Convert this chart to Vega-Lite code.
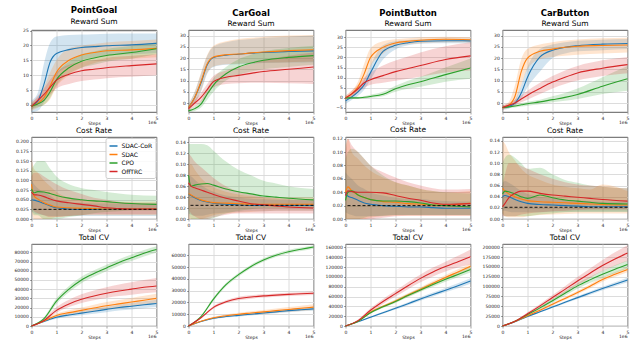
{
"$schema":"https://vega.github.io/schema/vega-lite/v6.json",
"padding":{"left":13.5,"top":5,"right":2,"bottom":0},
"columns":4,
"bounds":"flush",
"align":"all",
"spacing":{"row":25,"column":32},
"resolve":{"scale":{"color":"independent"},"legend":{"color":"independent"}},
"config":{
 "font":"DejaVu Sans",
 "view":{"stroke":"#333","strokeWidth":0.8},
 "axis":{"labelFont":"DejaVu Sans","titleFont":"DejaVu Sans","labelFontSize":4.5,"labelColor":"#222","labelOverlap":false,"labelFlush":false,"tickSize":2,"tickColor":"#444","tickWidth":0.5,"domain":false,"gridColor":"#d8d8d8","gridWidth":0.9,"labelPadding":1.2,"titleFontSize":4.5,"titleFontWeight":"normal","titlePadding":1,"titleColor":"#222"},
 "title":{"font":"DejaVu Sans","fontSize":8.5,"fontWeight":"bold","color":"#000","subtitleFont":"DejaVu Sans","subtitleFontSize":7.5,"subtitleColor":"#000","anchor":"middle","frame":"group","offset":2.5,"subtitlePadding":3}
},
"datasets":{
"pgR":[
{"a":"SDAC-CoR","x":0,"y":-0.5,"l":-2.5,"h":1.5},{"a":"SDAC-CoR","x":0.25,"y":1.2,"l":-2,"h":4},{"a":"SDAC-CoR","x":0.5,"y":7,"l":1,"h":14},{"a":"SDAC-CoR","x":0.75,"y":14.5,"l":6,"h":21},{"a":"SDAC-CoR","x":1,"y":17.3,"l":10,"h":23},{"a":"SDAC-CoR","x":1.5,"y":18.6,"l":13,"h":23.5},{"a":"SDAC-CoR","x":2,"y":19.3,"l":15,"h":23.7},{"a":"SDAC-CoR","x":2.5,"y":19.6,"l":16,"h":23.8},{"a":"SDAC-CoR","x":3,"y":19.9,"l":16.5,"h":23.9},{"a":"SDAC-CoR","x":4,"y":20.2,"l":17,"h":24},{"a":"SDAC-CoR","x":5,"y":20.7,"l":17.5,"h":24},
{"a":"SDAC","x":0,"y":-0.5,"l":-2,"h":1},{"a":"SDAC","x":0.25,"y":0.5,"l":-1,"h":2.5},{"a":"SDAC","x":0.5,"y":2.5,"l":0,"h":6},{"a":"SDAC","x":0.75,"y":6.5,"l":2,"h":11},{"a":"SDAC","x":1,"y":11,"l":6,"h":15},{"a":"SDAC","x":1.5,"y":15,"l":10,"h":19},{"a":"SDAC","x":2,"y":16.8,"l":12.5,"h":20},{"a":"SDAC","x":2.5,"y":17.6,"l":14,"h":20.5},{"a":"SDAC","x":3,"y":18.2,"l":15,"h":21},{"a":"SDAC","x":4,"y":18.5,"l":15.5,"h":21.5},{"a":"SDAC","x":5,"y":19,"l":16,"h":22},
{"a":"CPO","x":0,"y":-0.5,"l":-1.5,"h":0.5},{"a":"CPO","x":0.25,"y":0.3,"l":-0.8,"h":1.5},{"a":"CPO","x":0.5,"y":1.5,"l":0,"h":3},{"a":"CPO","x":0.75,"y":4.5,"l":2.5,"h":6.5},{"a":"CPO","x":1,"y":8.5,"l":6.5,"h":10.5},{"a":"CPO","x":1.5,"y":12.5,"l":10.5,"h":14.5},{"a":"CPO","x":2,"y":14.7,"l":12.5,"h":17},{"a":"CPO","x":2.5,"y":15.8,"l":13.5,"h":18},{"a":"CPO","x":3,"y":16.6,"l":14.5,"h":18.8},{"a":"CPO","x":4,"y":17.6,"l":15.5,"h":19.8},{"a":"CPO","x":5,"y":18.9,"l":17,"h":21},
{"a":"OffTRC","x":0,"y":-0.5,"l":-1.5,"h":0.5},{"a":"OffTRC","x":0.25,"y":1.5,"l":0,"h":3},{"a":"OffTRC","x":0.5,"y":3.5,"l":1.5,"h":5.5},{"a":"OffTRC","x":0.75,"y":6,"l":3.5,"h":8.5},{"a":"OffTRC","x":1,"y":8.3,"l":5.5,"h":11},{"a":"OffTRC","x":1.5,"y":10.3,"l":7,"h":13.5},{"a":"OffTRC","x":2,"y":11.5,"l":8,"h":14.5},{"a":"OffTRC","x":2.5,"y":12,"l":8.5,"h":15},{"a":"OffTRC","x":3,"y":12.5,"l":9,"h":15.8},{"a":"OffTRC","x":4,"y":13.2,"l":9.5,"h":16.5},{"a":"OffTRC","x":5,"y":13.8,"l":10,"h":17}
],
"cgR":[
{"a":"SDAC-CoR","x":0,"y":-2,"l":-3.5,"h":-0.5},{"a":"SDAC-CoR","x":0.25,"y":2.5,"l":0,"h":5},{"a":"SDAC-CoR","x":0.5,"y":9,"l":5,"h":13},{"a":"SDAC-CoR","x":0.75,"y":17,"l":13,"h":21},{"a":"SDAC-CoR","x":1,"y":20.3,"l":16,"h":25},{"a":"SDAC-CoR","x":1.5,"y":21.3,"l":17,"h":27},{"a":"SDAC-CoR","x":2,"y":21.7,"l":17.3,"h":28},{"a":"SDAC-CoR","x":2.5,"y":22.2,"l":17.5,"h":28.5},{"a":"SDAC-CoR","x":3,"y":22.5,"l":17.8,"h":29},{"a":"SDAC-CoR","x":4,"y":22.9,"l":18,"h":29.5},{"a":"SDAC-CoR","x":5,"y":23.2,"l":18.2,"h":30},
{"a":"SDAC","x":0,"y":-2,"l":-3.5,"h":-0.5},{"a":"SDAC","x":0.25,"y":2.5,"l":0,"h":5},{"a":"SDAC","x":0.5,"y":9.5,"l":5.5,"h":13.5},{"a":"SDAC","x":0.75,"y":17.5,"l":13.5,"h":21.5},{"a":"SDAC","x":1,"y":20.5,"l":16.3,"h":25.5},{"a":"SDAC","x":1.5,"y":21.5,"l":17.3,"h":27.5},{"a":"SDAC","x":2,"y":21.8,"l":17.5,"h":28.5},{"a":"SDAC","x":2.5,"y":22.3,"l":17.8,"h":29},{"a":"SDAC","x":3,"y":22.7,"l":18,"h":29.5},{"a":"SDAC","x":4,"y":23.3,"l":18.2,"h":30},{"a":"SDAC","x":5,"y":23.7,"l":18.5,"h":30.3},
{"a":"CPO","x":0,"y":-3.5,"l":-4,"h":-3},{"a":"CPO","x":0.25,"y":-2.5,"l":-3.5,"h":-1.5},{"a":"CPO","x":0.5,"y":-0.5,"l":-2,"h":1},{"a":"CPO","x":0.75,"y":4,"l":1.5,"h":6.5},{"a":"CPO","x":1,"y":8,"l":5,"h":11},{"a":"CPO","x":1.5,"y":13,"l":10,"h":16},{"a":"CPO","x":2,"y":16,"l":12.5,"h":19.5},{"a":"CPO","x":2.5,"y":17.8,"l":14,"h":21.5},{"a":"CPO","x":3,"y":19,"l":15,"h":23},{"a":"CPO","x":4,"y":20.3,"l":16,"h":24.5},{"a":"CPO","x":5,"y":21.1,"l":17,"h":25.5},
{"a":"OffTRC","x":0,"y":-2.5,"l":-3.5,"h":-1.5},{"a":"OffTRC","x":0.25,"y":0,"l":-1.5,"h":1.5},{"a":"OffTRC","x":0.5,"y":2.5,"l":0.5,"h":4.5},{"a":"OffTRC","x":0.75,"y":6,"l":3.5,"h":8.5},{"a":"OffTRC","x":1,"y":9.5,"l":7,"h":12},{"a":"OffTRC","x":1.5,"y":11.5,"l":8.5,"h":14.5},{"a":"OffTRC","x":2,"y":12.3,"l":8.8,"h":16},{"a":"OffTRC","x":2.5,"y":13.2,"l":9,"h":17.5},{"a":"OffTRC","x":3,"y":14,"l":9,"h":19},{"a":"OffTRC","x":4,"y":15,"l":8.8,"h":21},{"a":"OffTRC","x":5,"y":16,"l":8.5,"h":22.5}
],
"pbR":[
{"a":"SDAC-CoR","x":0,"y":-1.5,"l":-3,"h":0},{"a":"SDAC-CoR","x":0.25,"y":0.5,"l":-1,"h":2},{"a":"SDAC-CoR","x":0.5,"y":3,"l":1,"h":5},{"a":"SDAC-CoR","x":0.75,"y":6.5,"l":4,"h":9},{"a":"SDAC-CoR","x":1,"y":12.5,"l":9,"h":16},{"a":"SDAC-CoR","x":1.5,"y":23,"l":19,"h":26},{"a":"SDAC-CoR","x":2,"y":26,"l":24,"h":28},{"a":"SDAC-CoR","x":2.5,"y":27.3,"l":26,"h":28.6},{"a":"SDAC-CoR","x":3,"y":28,"l":26.8,"h":29},{"a":"SDAC-CoR","x":4,"y":28.3,"l":27,"h":29.4},{"a":"SDAC-CoR","x":5,"y":28.2,"l":27,"h":29.4},
{"a":"SDAC","x":0,"y":0,"l":-1,"h":1},{"a":"SDAC","x":0.25,"y":2,"l":0.5,"h":3.5},{"a":"SDAC","x":0.5,"y":5.5,"l":3,"h":8},{"a":"SDAC","x":0.75,"y":12,"l":8,"h":17},{"a":"SDAC","x":1,"y":20,"l":15.5,"h":24.5},{"a":"SDAC","x":1.5,"y":25,"l":22,"h":28},{"a":"SDAC","x":2,"y":27.2,"l":25.5,"h":29},{"a":"SDAC","x":2.5,"y":28,"l":26.5,"h":29.5},{"a":"SDAC","x":3,"y":28.5,"l":27,"h":30},{"a":"SDAC","x":4,"y":29,"l":27.5,"h":30.3},{"a":"SDAC","x":5,"y":28.8,"l":27.5,"h":30},
{"a":"CPO","x":0,"y":0,"l":-0.5,"h":0.5},{"a":"CPO","x":0.25,"y":0,"l":-0.5,"h":0.5},{"a":"CPO","x":0.5,"y":0,"l":-0.5,"h":0.5},{"a":"CPO","x":0.75,"y":0.3,"l":-0.3,"h":0.8},{"a":"CPO","x":1,"y":0.7,"l":0,"h":1.5},{"a":"CPO","x":1.5,"y":1.8,"l":0.8,"h":3},{"a":"CPO","x":2,"y":4.5,"l":3,"h":6},{"a":"CPO","x":2.5,"y":6.5,"l":4.5,"h":8.5},{"a":"CPO","x":3,"y":8,"l":5.5,"h":10.5},{"a":"CPO","x":4,"y":11.5,"l":8,"h":15},{"a":"CPO","x":5,"y":14.8,"l":9.5,"h":19.5},
{"a":"OffTRC","x":0,"y":0,"l":-1,"h":1},{"a":"OffTRC","x":0.25,"y":2,"l":0.5,"h":3.5},{"a":"OffTRC","x":0.5,"y":4.5,"l":2.5,"h":6.5},{"a":"OffTRC","x":0.75,"y":7.5,"l":5,"h":10},{"a":"OffTRC","x":1,"y":9,"l":6.5,"h":12.5},{"a":"OffTRC","x":1.5,"y":11,"l":7.5,"h":16},{"a":"OffTRC","x":2,"y":13,"l":8.5,"h":18.5},{"a":"OffTRC","x":2.5,"y":14.5,"l":9.5,"h":20.5},{"a":"OffTRC","x":3,"y":16,"l":10.5,"h":22.5},{"a":"OffTRC","x":4,"y":19,"l":12.5,"h":25.5},{"a":"OffTRC","x":5,"y":20.8,"l":13.5,"h":27.5}
],
"cbR":[
{"a":"SDAC-CoR","x":0,"y":-2,"l":-3,"h":-1},{"a":"SDAC-CoR","x":0.25,"y":-1.5,"l":-2.5,"h":-0.5},{"a":"SDAC-CoR","x":0.5,"y":0,"l":-1,"h":1.5},{"a":"SDAC-CoR","x":0.75,"y":4.5,"l":2,"h":8},{"a":"SDAC-CoR","x":1,"y":11.5,"l":7,"h":16},{"a":"SDAC-CoR","x":1.5,"y":20.5,"l":14,"h":24},{"a":"SDAC-CoR","x":2,"y":23.5,"l":20,"h":26},{"a":"SDAC-CoR","x":2.5,"y":24.8,"l":22,"h":27},{"a":"SDAC-CoR","x":3,"y":25.5,"l":23,"h":27.7},{"a":"SDAC-CoR","x":4,"y":26.2,"l":23.5,"h":28.2},{"a":"SDAC-CoR","x":5,"y":26.5,"l":24,"h":28.5},
{"a":"SDAC","x":0,"y":-2,"l":-3,"h":-1},{"a":"SDAC","x":0.25,"y":-1,"l":-2,"h":0.5},{"a":"SDAC","x":0.5,"y":3,"l":0,"h":8},{"a":"SDAC","x":0.75,"y":14,"l":8,"h":19.5},{"a":"SDAC","x":1,"y":20,"l":15,"h":24},{"a":"SDAC","x":1.5,"y":23,"l":19.5,"h":26},{"a":"SDAC","x":2,"y":24,"l":20.5,"h":27},{"a":"SDAC","x":2.5,"y":24.8,"l":21,"h":27.8},{"a":"SDAC","x":3,"y":25.3,"l":21.5,"h":28.3},{"a":"SDAC","x":4,"y":25.6,"l":22,"h":28.8},{"a":"SDAC","x":5,"y":25.8,"l":22.5,"h":29},
{"a":"CPO","x":0,"y":-2,"l":-2.5,"h":-1.5},{"a":"CPO","x":0.25,"y":-1.7,"l":-2.3,"h":-1.1},{"a":"CPO","x":0.5,"y":-1.3,"l":-2,"h":-0.6},{"a":"CPO","x":0.75,"y":-0.8,"l":-1.6,"h":0},{"a":"CPO","x":1,"y":-0.3,"l":-1.2,"h":0.6},{"a":"CPO","x":1.5,"y":0.5,"l":-0.5,"h":1.5},{"a":"CPO","x":2,"y":1.5,"l":0.3,"h":3},{"a":"CPO","x":2.5,"y":2.5,"l":1,"h":4.5},{"a":"CPO","x":3,"y":3.8,"l":1.8,"h":6.5},{"a":"CPO","x":4,"y":7.5,"l":4,"h":11.5},{"a":"CPO","x":5,"y":10.8,"l":5.5,"h":16.5},
{"a":"OffTRC","x":0,"y":-2,"l":-3,"h":-1},{"a":"OffTRC","x":0.25,"y":-1,"l":-2,"h":0},{"a":"OffTRC","x":0.5,"y":0,"l":-1,"h":1.5},{"a":"OffTRC","x":0.75,"y":1.8,"l":0.3,"h":3.5},{"a":"OffTRC","x":1,"y":3.5,"l":1.5,"h":5.5},{"a":"OffTRC","x":1.5,"y":6.5,"l":4,"h":9},{"a":"OffTRC","x":2,"y":9.3,"l":6.5,"h":12},{"a":"OffTRC","x":2.5,"y":11.5,"l":8.5,"h":14.5},{"a":"OffTRC","x":3,"y":13.4,"l":10,"h":16.5},{"a":"OffTRC","x":4,"y":15.5,"l":12,"h":19},{"a":"OffTRC","x":5,"y":17.1,"l":13.3,"h":20.5}
],
"pgC":[
{"a":"SDAC-CoR","x":0,"y":0.05,"l":0.02,"h":0.1},{"a":"SDAC-CoR","x":0.1,"y":0.049,"l":0.015,"h":0.09},{"a":"SDAC-CoR","x":0.25,"y":0.046,"l":0.012,"h":0.08},{"a":"SDAC-CoR","x":0.5,"y":0.04,"l":0.01,"h":0.07},{"a":"SDAC-CoR","x":0.75,"y":0.034,"l":0.008,"h":0.06},{"a":"SDAC-CoR","x":1,"y":0.029,"l":0.008,"h":0.05},{"a":"SDAC-CoR","x":1.5,"y":0.026,"l":0.008,"h":0.045},{"a":"SDAC-CoR","x":2,"y":0.025,"l":0.008,"h":0.042},{"a":"SDAC-CoR","x":2.5,"y":0.025,"l":0.008,"h":0.04},{"a":"SDAC-CoR","x":3,"y":0.025,"l":0.008,"h":0.04},{"a":"SDAC-CoR","x":3.5,"y":0.025,"l":0.008,"h":0.04},{"a":"SDAC-CoR","x":4,"y":0.025,"l":0.008,"h":0.04},{"a":"SDAC-CoR","x":5,"y":0.025,"l":0.008,"h":0.04},
{"a":"SDAC","x":0,"y":0.09,"l":0.02,"h":0.16},{"a":"SDAC","x":0.1,"y":0.06,"l":0,"h":0.13},{"a":"SDAC","x":0.25,"y":0.052,"l":0,"h":0.12},{"a":"SDAC","x":0.5,"y":0.042,"l":0,"h":0.1},{"a":"SDAC","x":0.75,"y":0.036,"l":0,"h":0.085},{"a":"SDAC","x":1,"y":0.031,"l":0.005,"h":0.07},{"a":"SDAC","x":1.5,"y":0.029,"l":0.008,"h":0.055},{"a":"SDAC","x":2,"y":0.028,"l":0.01,"h":0.05},{"a":"SDAC","x":2.5,"y":0.027,"l":0.01,"h":0.048},{"a":"SDAC","x":3,"y":0.026,"l":0.01,"h":0.046},{"a":"SDAC","x":3.5,"y":0.026,"l":0.01,"h":0.045},{"a":"SDAC","x":4,"y":0.026,"l":0.01,"h":0.045},{"a":"SDAC","x":5,"y":0.026,"l":0.01,"h":0.045},
{"a":"CPO","x":0,"y":0.078,"l":0.03,"h":0.13},{"a":"CPO","x":0.1,"y":0.068,"l":0.01,"h":0.14},{"a":"CPO","x":0.25,"y":0.071,"l":0.01,"h":0.15},{"a":"CPO","x":0.5,"y":0.07,"l":0,"h":0.15},{"a":"CPO","x":0.75,"y":0.066,"l":0,"h":0.13},{"a":"CPO","x":1,"y":0.061,"l":0,"h":0.11},{"a":"CPO","x":1.5,"y":0.054,"l":0.005,"h":0.09},{"a":"CPO","x":2,"y":0.05,"l":0.01,"h":0.08},{"a":"CPO","x":2.5,"y":0.047,"l":0.015,"h":0.075},{"a":"CPO","x":3,"y":0.045,"l":0.018,"h":0.07},{"a":"CPO","x":3.5,"y":0.042,"l":0.02,"h":0.066},{"a":"CPO","x":4,"y":0.04,"l":0.022,"h":0.063},{"a":"CPO","x":5,"y":0.038,"l":0.022,"h":0.06},
{"a":"OffTRC","x":0,"y":0.07,"l":0.03,"h":0.11},{"a":"OffTRC","x":0.1,"y":0.063,"l":0.02,"h":0.12},{"a":"OffTRC","x":0.25,"y":0.062,"l":0.015,"h":0.12},{"a":"OffTRC","x":0.5,"y":0.058,"l":0.01,"h":0.11},{"a":"OffTRC","x":0.75,"y":0.052,"l":0.005,"h":0.1},{"a":"OffTRC","x":1,"y":0.047,"l":0.005,"h":0.09},{"a":"OffTRC","x":1.5,"y":0.042,"l":0.008,"h":0.075},{"a":"OffTRC","x":2,"y":0.038,"l":0.01,"h":0.065},{"a":"OffTRC","x":2.5,"y":0.034,"l":0.012,"h":0.055},{"a":"OffTRC","x":3,"y":0.029,"l":0.012,"h":0.05},{"a":"OffTRC","x":3.5,"y":0.027,"l":0.012,"h":0.045},{"a":"OffTRC","x":4,"y":0.026,"l":0.012,"h":0.042},{"a":"OffTRC","x":5,"y":0.026,"l":0.012,"h":0.04}
],
"cgC":[
{"a":"SDAC-CoR","x":0,"y":0.045,"l":0.01,"h":0.08},{"a":"SDAC-CoR","x":0.1,"y":0.043,"l":0.008,"h":0.078},{"a":"SDAC-CoR","x":0.25,"y":0.039,"l":0.006,"h":0.072},{"a":"SDAC-CoR","x":0.5,"y":0.034,"l":0.006,"h":0.062},{"a":"SDAC-CoR","x":0.75,"y":0.031,"l":0.008,"h":0.055},{"a":"SDAC-CoR","x":1,"y":0.029,"l":0.01,"h":0.05},{"a":"SDAC-CoR","x":1.5,"y":0.027,"l":0.012,"h":0.043},{"a":"SDAC-CoR","x":2,"y":0.026,"l":0.013,"h":0.04},{"a":"SDAC-CoR","x":2.5,"y":0.025,"l":0.014,"h":0.037},{"a":"SDAC-CoR","x":3,"y":0.025,"l":0.014,"h":0.036},{"a":"SDAC-CoR","x":3.5,"y":0.025,"l":0.015,"h":0.035},{"a":"SDAC-CoR","x":4,"y":0.025,"l":0.015,"h":0.035},{"a":"SDAC-CoR","x":5,"y":0.025,"l":0.015,"h":0.035},
{"a":"SDAC","x":0,"y":0.046,"l":0,"h":0.1},{"a":"SDAC","x":0.1,"y":0.044,"l":0,"h":0.1},{"a":"SDAC","x":0.25,"y":0.04,"l":0,"h":0.09},{"a":"SDAC","x":0.5,"y":0.035,"l":0,"h":0.075},{"a":"SDAC","x":0.75,"y":0.032,"l":0.003,"h":0.065},{"a":"SDAC","x":1,"y":0.03,"l":0.007,"h":0.058},{"a":"SDAC","x":1.5,"y":0.029,"l":0.01,"h":0.05},{"a":"SDAC","x":2,"y":0.028,"l":0.012,"h":0.045},{"a":"SDAC","x":2.5,"y":0.027,"l":0.013,"h":0.042},{"a":"SDAC","x":3,"y":0.027,"l":0.014,"h":0.04},{"a":"SDAC","x":3.5,"y":0.027,"l":0.015,"h":0.04},{"a":"SDAC","x":4,"y":0.027,"l":0.015,"h":0.04},{"a":"SDAC","x":5,"y":0.027,"l":0.015,"h":0.04},
{"a":"CPO","x":0,"y":0.08,"l":0.02,"h":0.137},{"a":"CPO","x":0.1,"y":0.06,"l":0,"h":0.137},{"a":"CPO","x":0.25,"y":0.062,"l":0,"h":0.137},{"a":"CPO","x":0.5,"y":0.064,"l":0,"h":0.137},{"a":"CPO","x":0.75,"y":0.065,"l":0,"h":0.135},{"a":"CPO","x":1,"y":0.062,"l":0.002,"h":0.125},{"a":"CPO","x":1.5,"y":0.055,"l":0.01,"h":0.105},{"a":"CPO","x":2,"y":0.05,"l":0.015,"h":0.09},{"a":"CPO","x":2.5,"y":0.046,"l":0.018,"h":0.08},{"a":"CPO","x":3,"y":0.042,"l":0.02,"h":0.07},{"a":"CPO","x":3.5,"y":0.04,"l":0.02,"h":0.065},{"a":"CPO","x":4,"y":0.038,"l":0.02,"h":0.06},{"a":"CPO","x":5,"y":0.035,"l":0.02,"h":0.055},
{"a":"OffTRC","x":0,"y":0.066,"l":0.02,"h":0.12},{"a":"OffTRC","x":0.1,"y":0.06,"l":0.01,"h":0.115},{"a":"OffTRC","x":0.25,"y":0.057,"l":0.005,"h":0.105},{"a":"OffTRC","x":0.5,"y":0.053,"l":0,"h":0.095},{"a":"OffTRC","x":0.75,"y":0.049,"l":0,"h":0.085},{"a":"OffTRC","x":1,"y":0.045,"l":0.003,"h":0.075},{"a":"OffTRC","x":1.5,"y":0.038,"l":0.008,"h":0.06},{"a":"OffTRC","x":2,"y":0.033,"l":0.01,"h":0.05},{"a":"OffTRC","x":2.5,"y":0.028,"l":0.01,"h":0.045},{"a":"OffTRC","x":3,"y":0.026,"l":0.01,"h":0.04},{"a":"OffTRC","x":3.5,"y":0.024,"l":0.01,"h":0.038},{"a":"OffTRC","x":4,"y":0.022,"l":0.01,"h":0.036},{"a":"OffTRC","x":5,"y":0.02,"l":0.01,"h":0.034}
],
"pbC":[
{"a":"SDAC-CoR","x":0,"y":0.038,"l":0.01,"h":0.07},{"a":"SDAC-CoR","x":0.1,"y":0.034,"l":0.008,"h":0.065},{"a":"SDAC-CoR","x":0.25,"y":0.032,"l":0.006,"h":0.06},{"a":"SDAC-CoR","x":0.5,"y":0.028,"l":0.004,"h":0.05},{"a":"SDAC-CoR","x":0.75,"y":0.024,"l":0.004,"h":0.045},{"a":"SDAC-CoR","x":1,"y":0.022,"l":0.004,"h":0.04},{"a":"SDAC-CoR","x":1.5,"y":0.02,"l":0.005,"h":0.035},{"a":"SDAC-CoR","x":2,"y":0.019,"l":0.006,"h":0.032},{"a":"SDAC-CoR","x":2.5,"y":0.018,"l":0.006,"h":0.03},{"a":"SDAC-CoR","x":3,"y":0.018,"l":0.006,"h":0.03},{"a":"SDAC-CoR","x":3.5,"y":0.017,"l":0.006,"h":0.028},{"a":"SDAC-CoR","x":4,"y":0.016,"l":0.006,"h":0.027},{"a":"SDAC-CoR","x":5,"y":0.016,"l":0.006,"h":0.026},
{"a":"SDAC","x":0,"y":0.04,"l":0,"h":0.11},{"a":"SDAC","x":0.1,"y":0.048,"l":0,"h":0.12},{"a":"SDAC","x":0.25,"y":0.042,"l":0,"h":0.1},{"a":"SDAC","x":0.5,"y":0.036,"l":0,"h":0.09},{"a":"SDAC","x":0.75,"y":0.032,"l":0,"h":0.08},{"a":"SDAC","x":1,"y":0.029,"l":0.002,"h":0.072},{"a":"SDAC","x":1.5,"y":0.026,"l":0.004,"h":0.062},{"a":"SDAC","x":2,"y":0.025,"l":0.005,"h":0.055},{"a":"SDAC","x":2.5,"y":0.023,"l":0.005,"h":0.05},{"a":"SDAC","x":3,"y":0.022,"l":0.005,"h":0.045},{"a":"SDAC","x":3.5,"y":0.021,"l":0.005,"h":0.042},{"a":"SDAC","x":4,"y":0.021,"l":0.005,"h":0.04},{"a":"SDAC","x":5,"y":0.024,"l":0.005,"h":0.042},
{"a":"CPO","x":0,"y":0.028,"l":0,"h":0.09},{"a":"CPO","x":0.1,"y":0.04,"l":0,"h":0.1},{"a":"CPO","x":0.25,"y":0.042,"l":0,"h":0.105},{"a":"CPO","x":0.5,"y":0.036,"l":0,"h":0.1},{"a":"CPO","x":0.75,"y":0.032,"l":0.002,"h":0.09},{"a":"CPO","x":1,"y":0.029,"l":0.004,"h":0.08},{"a":"CPO","x":1.5,"y":0.027,"l":0.005,"h":0.065},{"a":"CPO","x":2,"y":0.027,"l":0.006,"h":0.055},{"a":"CPO","x":2.5,"y":0.026,"l":0.006,"h":0.05},{"a":"CPO","x":3,"y":0.024,"l":0.006,"h":0.045},{"a":"CPO","x":3.5,"y":0.021,"l":0.006,"h":0.042},{"a":"CPO","x":4,"y":0.02,"l":0.006,"h":0.04},{"a":"CPO","x":5,"y":0.018,"l":0.006,"h":0.038},
{"a":"OffTRC","x":0,"y":0.035,"l":0,"h":0.1},{"a":"OffTRC","x":0.1,"y":0.042,"l":0,"h":0.12},{"a":"OffTRC","x":0.25,"y":0.041,"l":0,"h":0.11},{"a":"OffTRC","x":0.5,"y":0.04,"l":0,"h":0.1},{"a":"OffTRC","x":0.75,"y":0.04,"l":0,"h":0.09},{"a":"OffTRC","x":1,"y":0.04,"l":0,"h":0.08},{"a":"OffTRC","x":1.5,"y":0.039,"l":0.002,"h":0.07},{"a":"OffTRC","x":2,"y":0.035,"l":0.004,"h":0.062},{"a":"OffTRC","x":2.5,"y":0.031,"l":0.005,"h":0.055},{"a":"OffTRC","x":3,"y":0.028,"l":0.005,"h":0.05},{"a":"OffTRC","x":3.5,"y":0.024,"l":0.005,"h":0.046},{"a":"OffTRC","x":4,"y":0.022,"l":0.005,"h":0.044},{"a":"OffTRC","x":5,"y":0.023,"l":0.005,"h":0.045}
],
"cbC":[
{"a":"SDAC-CoR","x":0,"y":0.04,"l":0.015,"h":0.065},{"a":"SDAC-CoR","x":0.1,"y":0.042,"l":0.015,"h":0.068},{"a":"SDAC-CoR","x":0.25,"y":0.04,"l":0.013,"h":0.065},{"a":"SDAC-CoR","x":0.5,"y":0.035,"l":0.012,"h":0.058},{"a":"SDAC-CoR","x":0.75,"y":0.031,"l":0.012,"h":0.05},{"a":"SDAC-CoR","x":1,"y":0.028,"l":0.012,"h":0.045},{"a":"SDAC-CoR","x":1.5,"y":0.026,"l":0.012,"h":0.04},{"a":"SDAC-CoR","x":2,"y":0.025,"l":0.013,"h":0.037},{"a":"SDAC-CoR","x":2.5,"y":0.024,"l":0.013,"h":0.035},{"a":"SDAC-CoR","x":3,"y":0.023,"l":0.013,"h":0.033},{"a":"SDAC-CoR","x":3.5,"y":0.022,"l":0.013,"h":0.032},{"a":"SDAC-CoR","x":4,"y":0.022,"l":0.013,"h":0.031},{"a":"SDAC-CoR","x":5,"y":0.022,"l":0.013,"h":0.031},
{"a":"SDAC","x":0,"y":0.055,"l":0.01,"h":0.14},{"a":"SDAC","x":0.1,"y":0.05,"l":0.005,"h":0.135},{"a":"SDAC","x":0.25,"y":0.045,"l":0.003,"h":0.12},{"a":"SDAC","x":0.5,"y":0.04,"l":0.003,"h":0.105},{"a":"SDAC","x":0.75,"y":0.036,"l":0.003,"h":0.09},{"a":"SDAC","x":1,"y":0.033,"l":0.005,"h":0.08},{"a":"SDAC","x":1.5,"y":0.031,"l":0.007,"h":0.07},{"a":"SDAC","x":2,"y":0.03,"l":0.008,"h":0.062},{"a":"SDAC","x":2.5,"y":0.029,"l":0.009,"h":0.058},{"a":"SDAC","x":3,"y":0.028,"l":0.01,"h":0.055},{"a":"SDAC","x":3.5,"y":0.027,"l":0.01,"h":0.053},{"a":"SDAC","x":4,"y":0.026,"l":0.01,"h":0.062},{"a":"SDAC","x":5,"y":0.025,"l":0.01,"h":0.05},
{"a":"CPO","x":0,"y":0.045,"l":0.01,"h":0.1},{"a":"CPO","x":0.1,"y":0.05,"l":0.005,"h":0.11},{"a":"CPO","x":0.25,"y":0.049,"l":0.005,"h":0.115},{"a":"CPO","x":0.5,"y":0.045,"l":0.005,"h":0.11},{"a":"CPO","x":0.75,"y":0.04,"l":0.005,"h":0.1},{"a":"CPO","x":1,"y":0.037,"l":0.005,"h":0.09},{"a":"CPO","x":1.5,"y":0.043,"l":0.008,"h":0.092},{"a":"CPO","x":2,"y":0.038,"l":0.01,"h":0.08},{"a":"CPO","x":2.5,"y":0.034,"l":0.012,"h":0.07},{"a":"CPO","x":3,"y":0.032,"l":0.013,"h":0.065},{"a":"CPO","x":3.5,"y":0.03,"l":0.013,"h":0.06},{"a":"CPO","x":4,"y":0.028,"l":0.013,"h":0.058},{"a":"CPO","x":5,"y":0.027,"l":0.013,"h":0.055},
{"a":"OffTRC","x":0,"y":0.022,"l":0.005,"h":0.06},{"a":"OffTRC","x":0.1,"y":0.028,"l":0.005,"h":0.08},{"a":"OffTRC","x":0.25,"y":0.038,"l":0.005,"h":0.1},{"a":"OffTRC","x":0.5,"y":0.046,"l":0.005,"h":0.1},{"a":"OffTRC","x":0.75,"y":0.05,"l":0.008,"h":0.095},{"a":"OffTRC","x":1,"y":0.05,"l":0.01,"h":0.09},{"a":"OffTRC","x":1.5,"y":0.046,"l":0.012,"h":0.08},{"a":"OffTRC","x":2,"y":0.043,"l":0.014,"h":0.072},{"a":"OffTRC","x":2.5,"y":0.041,"l":0.015,"h":0.066},{"a":"OffTRC","x":3,"y":0.039,"l":0.016,"h":0.062},{"a":"OffTRC","x":3.5,"y":0.037,"l":0.017,"h":0.06},{"a":"OffTRC","x":4,"y":0.035,"l":0.017,"h":0.058},{"a":"OffTRC","x":5,"y":0.032,"l":0.017,"h":0.055}
],
"pgV":[
{"a":"SDAC-CoR","x":0,"y":0,"l":0,"h":0},{"a":"SDAC-CoR","x":0.5,"y":5000,"l":4200,"h":5800},{"a":"SDAC-CoR","x":1,"y":9500,"l":8000,"h":11000},{"a":"SDAC-CoR","x":1.5,"y":12000,"l":10000,"h":14000},{"a":"SDAC-CoR","x":2,"y":14000,"l":11700,"h":16300},{"a":"SDAC-CoR","x":2.5,"y":16000,"l":13400,"h":18600},{"a":"SDAC-CoR","x":3,"y":18000,"l":15000,"h":21000},{"a":"SDAC-CoR","x":3.5,"y":20000,"l":16800,"h":23200},{"a":"SDAC-CoR","x":4,"y":21500,"l":18000,"h":25000},{"a":"SDAC-CoR","x":4.5,"y":23000,"l":19200,"h":26800},{"a":"SDAC-CoR","x":5,"y":24500,"l":20500,"h":28500},
{"a":"SDAC","x":0,"y":0,"l":0,"h":0},{"a":"SDAC","x":0.5,"y":5500,"l":4500,"h":6500},{"a":"SDAC","x":1,"y":11500,"l":9500,"h":13500},{"a":"SDAC","x":1.5,"y":14500,"l":12000,"h":17000},{"a":"SDAC","x":2,"y":17000,"l":14000,"h":20000},{"a":"SDAC","x":2.5,"y":19500,"l":16000,"h":23000},{"a":"SDAC","x":3,"y":22000,"l":18000,"h":26000},{"a":"SDAC","x":3.5,"y":24000,"l":19800,"h":28200},{"a":"SDAC","x":4,"y":26000,"l":21500,"h":30500},{"a":"SDAC","x":4.5,"y":28000,"l":23200,"h":32800},{"a":"SDAC","x":5,"y":30000,"l":25000,"h":35000},
{"a":"CPO","x":0,"y":0,"l":0,"h":0},{"a":"CPO","x":0.5,"y":8000,"l":6500,"h":9500},{"a":"CPO","x":1,"y":27000,"l":24000,"h":30000},{"a":"CPO","x":1.5,"y":40000,"l":36500,"h":43500},{"a":"CPO","x":2,"y":50000,"l":46500,"h":53500},{"a":"CPO","x":2.5,"y":57000,"l":53500,"h":60500},{"a":"CPO","x":3,"y":63000,"l":59500,"h":66500},{"a":"CPO","x":3.5,"y":69000,"l":65500,"h":72500},{"a":"CPO","x":4,"y":74000,"l":70500,"h":77500},{"a":"CPO","x":4.5,"y":79000,"l":75500,"h":82500},{"a":"CPO","x":5,"y":83000,"l":79500,"h":86500},
{"a":"OffTRC","x":0,"y":0,"l":0,"h":0},{"a":"OffTRC","x":0.5,"y":6000,"l":5000,"h":7500},{"a":"OffTRC","x":1,"y":17000,"l":14500,"h":20500},{"a":"OffTRC","x":1.5,"y":24000,"l":20500,"h":28500},{"a":"OffTRC","x":2,"y":29000,"l":25000,"h":34500},{"a":"OffTRC","x":2.5,"y":32500,"l":28000,"h":38500},{"a":"OffTRC","x":3,"y":35500,"l":30500,"h":42000},{"a":"OffTRC","x":3.5,"y":38000,"l":32500,"h":45000},{"a":"OffTRC","x":4,"y":40000,"l":34000,"h":47500},{"a":"OffTRC","x":4.5,"y":42000,"l":35500,"h":50000},{"a":"OffTRC","x":5,"y":43500,"l":36500,"h":52000}
],
"cgV":[
{"a":"SDAC-CoR","x":0,"y":0,"l":0,"h":0},{"a":"SDAC-CoR","x":0.5,"y":3800,"l":3400,"h":4200},{"a":"SDAC-CoR","x":1,"y":6500,"l":5800,"h":7200},{"a":"SDAC-CoR","x":1.5,"y":8000,"l":7200,"h":8800},{"a":"SDAC-CoR","x":2,"y":9000,"l":8100,"h":9900},{"a":"SDAC-CoR","x":2.5,"y":10000,"l":9000,"h":11000},{"a":"SDAC-CoR","x":3,"y":11000,"l":9900,"h":12100},{"a":"SDAC-CoR","x":3.5,"y":12000,"l":10800,"h":13200},{"a":"SDAC-CoR","x":4,"y":13000,"l":11700,"h":14300},{"a":"SDAC-CoR","x":4.5,"y":13800,"l":12400,"h":15200},{"a":"SDAC-CoR","x":5,"y":14500,"l":13000,"h":16000},
{"a":"SDAC","x":0,"y":0,"l":0,"h":0},{"a":"SDAC","x":0.5,"y":4000,"l":3500,"h":4500},{"a":"SDAC","x":1,"y":7000,"l":6200,"h":7800},{"a":"SDAC","x":1.5,"y":8700,"l":7700,"h":9700},{"a":"SDAC","x":2,"y":10000,"l":8800,"h":11200},{"a":"SDAC","x":2.5,"y":11000,"l":9600,"h":12400},{"a":"SDAC","x":3,"y":12000,"l":10400,"h":13600},{"a":"SDAC","x":3.5,"y":13000,"l":11200,"h":14800},{"a":"SDAC","x":4,"y":14000,"l":12000,"h":16000},{"a":"SDAC","x":4.5,"y":15000,"l":12800,"h":17200},{"a":"SDAC","x":5,"y":16000,"l":13600,"h":18400},
{"a":"CPO","x":0,"y":0,"l":0,"h":0},{"a":"CPO","x":0.5,"y":8000,"l":7200,"h":8800},{"a":"CPO","x":1,"y":22800,"l":21300,"h":24300},{"a":"CPO","x":1.5,"y":35000,"l":33500,"h":36500},{"a":"CPO","x":2,"y":43500,"l":42000,"h":45000},{"a":"CPO","x":2.5,"y":50500,"l":49000,"h":52000},{"a":"CPO","x":3,"y":56000,"l":54500,"h":57500},{"a":"CPO","x":3.5,"y":60000,"l":58500,"h":61500},{"a":"CPO","x":4,"y":63000,"l":61500,"h":64500},{"a":"CPO","x":4.5,"y":65000,"l":63500,"h":66500},{"a":"CPO","x":5,"y":67000,"l":65500,"h":68500},
{"a":"OffTRC","x":0,"y":0,"l":0,"h":0},{"a":"OffTRC","x":0.5,"y":7000,"l":6400,"h":7600},{"a":"OffTRC","x":1,"y":15800,"l":14600,"h":17000},{"a":"OffTRC","x":1.5,"y":20500,"l":19200,"h":21800},{"a":"OffTRC","x":2,"y":23300,"l":21900,"h":24700},{"a":"OffTRC","x":2.5,"y":24600,"l":23200,"h":26000},{"a":"OffTRC","x":3,"y":25500,"l":24100,"h":26900},{"a":"OffTRC","x":3.5,"y":26200,"l":24800,"h":27600},{"a":"OffTRC","x":4,"y":26800,"l":25400,"h":28200},{"a":"OffTRC","x":4.5,"y":27300,"l":25900,"h":28700},{"a":"OffTRC","x":5,"y":27800,"l":26300,"h":29300}
],
"pbV":[
{"a":"SDAC-CoR","x":0,"y":0,"l":0,"h":0},{"a":"SDAC-CoR","x":0.5,"y":8500,"l":7700,"h":9300},{"a":"SDAC-CoR","x":1,"y":18000,"l":16500,"h":19500},{"a":"SDAC-CoR","x":1.5,"y":27000,"l":25000,"h":29000},{"a":"SDAC-CoR","x":2,"y":36000,"l":33500,"h":38500},{"a":"SDAC-CoR","x":2.5,"y":45500,"l":42500,"h":48500},{"a":"SDAC-CoR","x":3,"y":55000,"l":51500,"h":58500},{"a":"SDAC-CoR","x":3.5,"y":64000,"l":60000,"h":68000},{"a":"SDAC-CoR","x":4,"y":73000,"l":68500,"h":77500},{"a":"SDAC-CoR","x":4.5,"y":82000,"l":77000,"h":87000},{"a":"SDAC-CoR","x":5,"y":91500,"l":86000,"h":97000},
{"a":"SDAC","x":0,"y":0,"l":0,"h":0},{"a":"SDAC","x":0.5,"y":9500,"l":8500,"h":10500},{"a":"SDAC","x":1,"y":28000,"l":26000,"h":30000},{"a":"SDAC","x":1.5,"y":40000,"l":37500,"h":42500},{"a":"SDAC","x":2,"y":51000,"l":48000,"h":54000},{"a":"SDAC","x":2.5,"y":63000,"l":59500,"h":66500},{"a":"SDAC","x":3,"y":75000,"l":71000,"h":79000},{"a":"SDAC","x":3.5,"y":87000,"l":82500,"h":91500},{"a":"SDAC","x":4,"y":99000,"l":94000,"h":104000},{"a":"SDAC","x":4.5,"y":110000,"l":104500,"h":115500},{"a":"SDAC","x":5,"y":121500,"l":115500,"h":127500},
{"a":"CPO","x":0,"y":0,"l":0,"h":0},{"a":"CPO","x":0.5,"y":9500,"l":8500,"h":10500},{"a":"CPO","x":1,"y":27000,"l":25000,"h":29000},{"a":"CPO","x":1.5,"y":39000,"l":36500,"h":41500},{"a":"CPO","x":2,"y":50000,"l":47000,"h":53000},{"a":"CPO","x":2.5,"y":62000,"l":58500,"h":65500},{"a":"CPO","x":3,"y":73500,"l":69500,"h":77500},{"a":"CPO","x":3.5,"y":84500,"l":80000,"h":89000},{"a":"CPO","x":4,"y":95000,"l":90000,"h":100000},{"a":"CPO","x":4.5,"y":105000,"l":99500,"h":110500},{"a":"CPO","x":5,"y":115000,"l":109000,"h":121000},
{"a":"OffTRC","x":0,"y":0,"l":0,"h":0},{"a":"OffTRC","x":0.5,"y":11000,"l":9000,"h":13000},{"a":"OffTRC","x":1,"y":32000,"l":28000,"h":36000},{"a":"OffTRC","x":1.5,"y":50000,"l":45000,"h":55000},{"a":"OffTRC","x":2,"y":66000,"l":60000,"h":72000},{"a":"OffTRC","x":2.5,"y":82000,"l":75000,"h":89000},{"a":"OffTRC","x":3,"y":97000,"l":89000,"h":105000},{"a":"OffTRC","x":3.5,"y":110000,"l":101000,"h":119000},{"a":"OffTRC","x":4,"y":121000,"l":111000,"h":131000},{"a":"OffTRC","x":4.5,"y":131000,"l":119000,"h":143000},{"a":"OffTRC","x":5,"y":141000,"l":126000,"h":156000}
],
"cbV":[
{"a":"SDAC-CoR","x":0,"y":0,"l":0,"h":0},{"a":"SDAC-CoR","x":0.5,"y":11000,"l":10000,"h":12000},{"a":"SDAC-CoR","x":1,"y":24000,"l":22500,"h":25500},{"a":"SDAC-CoR","x":1.5,"y":36000,"l":34000,"h":38000},{"a":"SDAC-CoR","x":2,"y":48000,"l":45500,"h":50500},{"a":"SDAC-CoR","x":2.5,"y":60000,"l":57000,"h":63000},{"a":"SDAC-CoR","x":3,"y":72000,"l":68500,"h":75500},{"a":"SDAC-CoR","x":3.5,"y":83500,"l":79500,"h":87500},{"a":"SDAC-CoR","x":4,"y":95000,"l":90500,"h":99500},{"a":"SDAC-CoR","x":4.5,"y":106000,"l":101000,"h":111000},{"a":"SDAC-CoR","x":5,"y":116700,"l":111200,"h":122200},
{"a":"SDAC","x":0,"y":0,"l":0,"h":0},{"a":"SDAC","x":0.5,"y":11500,"l":10000,"h":13000},{"a":"SDAC","x":1,"y":26000,"l":23500,"h":28500},{"a":"SDAC","x":1.5,"y":40000,"l":37000,"h":43000},{"a":"SDAC","x":2,"y":55000,"l":51500,"h":58500},{"a":"SDAC","x":2.5,"y":70000,"l":66000,"h":74000},{"a":"SDAC","x":3,"y":85000,"l":80500,"h":89500},{"a":"SDAC","x":3.5,"y":101000,"l":96000,"h":106000},{"a":"SDAC","x":4,"y":118000,"l":112500,"h":123500},{"a":"SDAC","x":4.5,"y":131000,"l":125000,"h":137000},{"a":"SDAC","x":5,"y":143500,"l":136500,"h":150500},
{"a":"CPO","x":0,"y":0,"l":0,"h":0},{"a":"CPO","x":0.5,"y":12000,"l":10000,"h":14000},{"a":"CPO","x":1,"y":29000,"l":26000,"h":32000},{"a":"CPO","x":1.5,"y":46000,"l":42000,"h":50000},{"a":"CPO","x":2,"y":64000,"l":59000,"h":69000},{"a":"CPO","x":2.5,"y":83000,"l":77000,"h":89000},{"a":"CPO","x":3,"y":101750,"l":94750,"h":108750},{"a":"CPO","x":3.5,"y":117000,"l":109000,"h":125000},{"a":"CPO","x":4,"y":131000,"l":122000,"h":140000},{"a":"CPO","x":4.5,"y":144000,"l":134000,"h":154000},{"a":"CPO","x":5,"y":156000,"l":146000,"h":166000},
{"a":"OffTRC","x":0,"y":0,"l":0,"h":0},{"a":"OffTRC","x":0.5,"y":12000,"l":10000,"h":14000},{"a":"OffTRC","x":1,"y":31000,"l":27000,"h":35000},{"a":"OffTRC","x":1.5,"y":51000,"l":46000,"h":56000},{"a":"OffTRC","x":2,"y":72500,"l":66500,"h":78500},{"a":"OffTRC","x":2.5,"y":93000,"l":85000,"h":101000},{"a":"OffTRC","x":3,"y":114000,"l":104000,"h":124000},{"a":"OffTRC","x":3.5,"y":134000,"l":122000,"h":146000},{"a":"OffTRC","x":4,"y":153500,"l":139500,"h":167500},{"a":"OffTRC","x":4.5,"y":170000,"l":153000,"h":187000},{"a":"OffTRC","x":5,"y":185000,"l":165000,"h":205000}
]
},
"concat":[
{"width":125,"height":82,"title":{"text":"PointGoal","subtitle":"Reward Sum"},"data":{"name":"pgR"},"layer":[
 {"mark":{"type":"area","opacity":0.2,"interpolate":"monotone"},"encoding":{"x":{"field":"x","type":"quantitative","scale":{"domain":[0,5],"nice":false},"axis":{"values":[0,1,2,3,4,5],"format":"d","title":"Steps","labelOverlap":false,"tickCount":20}},"y":{"field":"l","type":"quantitative","scale":{"domain":[-2.4,25.2],"nice":false,"zero":false},"axis":{"values":[0,5,10,15,20,25],"format":"d","title":null,"labelOverlap":false,"tickCount":20}},"y2":{"field":"h"},"color":{"field":"a","type":"nominal","scale":{"domain":["SDAC-CoR","SDAC","CPO","OffTRC"],"range":["#1f77b4","#ff7f0e","#2ca02c","#d62728"]},"legend":null}}},
 {"mark":{"type":"line","strokeWidth":1.1,"interpolate":"monotone"},"encoding":{"x":{"field":"x","type":"quantitative","axis":{"values":[0,1,2,3,4,5],"format":"d","title":"Steps","labelOverlap":false,"tickCount":20}},"y":{"field":"y","type":"quantitative","axis":{"values":[0,5,10,15,20,25],"format":"d","title":null,"labelOverlap":false,"tickCount":20}},"color":{"field":"a","type":"nominal","scale":{"domain":["SDAC-CoR","SDAC","CPO","OffTRC"],"range":["#1f77b4","#ff7f0e","#2ca02c","#d62728"]},"legend":null}}},
 {"data":{"values":[{}]},"mark":{"type":"text","align":"right","baseline":"middle","dy":10.5,"fontSize":4.5,"color":"#222"},"encoding":{"x":{"datum":5},"y":{"datum":-2.4},"text":{"value":"1e6"}}}
]},
{"width":125,"height":82,"title":{"text":"CarGoal","subtitle":"Reward Sum"},"data":{"name":"cgR"},"layer":[
 {"mark":{"type":"area","opacity":0.2,"interpolate":"monotone"},"encoding":{"x":{"field":"x","type":"quantitative","scale":{"domain":[0,5],"nice":false},"axis":{"values":[0,1,2,3,4,5],"format":"d","title":"Steps","labelOverlap":false,"tickCount":20}},"y":{"field":"l","type":"quantitative","scale":{"domain":[-4,32.5],"nice":false,"zero":false},"axis":{"values":[0,5,10,15,20,25,30],"format":"d","title":null,"labelOverlap":false,"tickCount":20}},"y2":{"field":"h"},"color":{"field":"a","type":"nominal","scale":{"domain":["SDAC-CoR","SDAC","CPO","OffTRC"],"range":["#1f77b4","#ff7f0e","#2ca02c","#d62728"]},"legend":null}}},
 {"mark":{"type":"line","strokeWidth":1.1,"interpolate":"monotone"},"encoding":{"x":{"field":"x","type":"quantitative","axis":{"values":[0,1,2,3,4,5],"format":"d","title":"Steps","labelOverlap":false,"tickCount":20}},"y":{"field":"y","type":"quantitative","axis":{"values":[0,5,10,15,20,25,30],"format":"d","title":null,"labelOverlap":false,"tickCount":20}},"color":{"field":"a","type":"nominal","scale":{"domain":["SDAC-CoR","SDAC","CPO","OffTRC"],"range":["#1f77b4","#ff7f0e","#2ca02c","#d62728"]},"legend":null}}},
 {"data":{"values":[{}]},"mark":{"type":"text","align":"right","baseline":"middle","dy":10.5,"fontSize":4.5,"color":"#222"},"encoding":{"x":{"datum":5},"y":{"datum":-4},"text":{"value":"1e6"}}}
]},
{"width":125,"height":82,"title":{"text":"PointButton","subtitle":"Reward Sum"},"data":{"name":"pbR"},"layer":[
 {"mark":{"type":"area","opacity":0.2,"interpolate":"monotone"},"encoding":{"x":{"field":"x","type":"quantitative","scale":{"domain":[0,5],"nice":false},"axis":{"values":[0,1,2,3,4,5],"format":"d","title":"Steps","labelOverlap":false,"tickCount":20}},"y":{"field":"l","type":"quantitative","scale":{"domain":[-7,33.6],"nice":false,"zero":false},"axis":{"values":[-5,0,5,10,15,20,25,30],"format":"d","title":null,"labelOverlap":false,"tickCount":20}},"y2":{"field":"h"},"color":{"field":"a","type":"nominal","scale":{"domain":["SDAC-CoR","SDAC","CPO","OffTRC"],"range":["#1f77b4","#ff7f0e","#2ca02c","#d62728"]},"legend":null}}},
 {"mark":{"type":"line","strokeWidth":1.1,"interpolate":"monotone"},"encoding":{"x":{"field":"x","type":"quantitative","axis":{"values":[0,1,2,3,4,5],"format":"d","title":"Steps","labelOverlap":false,"tickCount":20}},"y":{"field":"y","type":"quantitative","axis":{"values":[-5,0,5,10,15,20,25,30],"format":"d","title":null,"labelOverlap":false,"tickCount":20}},"color":{"field":"a","type":"nominal","scale":{"domain":["SDAC-CoR","SDAC","CPO","OffTRC"],"range":["#1f77b4","#ff7f0e","#2ca02c","#d62728"]},"legend":null}}},
 {"data":{"values":[{}]},"mark":{"type":"text","align":"right","baseline":"middle","dy":10.5,"fontSize":4.5,"color":"#222"},"encoding":{"x":{"datum":5},"y":{"datum":-7},"text":{"value":"1e6"}}}
]},
{"width":125,"height":82,"title":{"text":"CarButton","subtitle":"Reward Sum"},"data":{"name":"cbR"},"layer":[
 {"mark":{"type":"area","opacity":0.2,"interpolate":"monotone"},"encoding":{"x":{"field":"x","type":"quantitative","scale":{"domain":[0,5],"nice":false},"axis":{"values":[0,1,2,3,4,5],"format":"d","title":"Steps","labelOverlap":false,"tickCount":20}},"y":{"field":"l","type":"quantitative","scale":{"domain":[-4,32.5],"nice":false,"zero":false},"axis":{"values":[0,5,10,15,20,25,30],"format":"d","title":null,"labelOverlap":false,"tickCount":20}},"y2":{"field":"h"},"color":{"field":"a","type":"nominal","scale":{"domain":["SDAC-CoR","SDAC","CPO","OffTRC"],"range":["#1f77b4","#ff7f0e","#2ca02c","#d62728"]},"legend":null}}},
 {"mark":{"type":"line","strokeWidth":1.1,"interpolate":"monotone"},"encoding":{"x":{"field":"x","type":"quantitative","axis":{"values":[0,1,2,3,4,5],"format":"d","title":"Steps","labelOverlap":false,"tickCount":20}},"y":{"field":"y","type":"quantitative","axis":{"values":[0,5,10,15,20,25,30],"format":"d","title":null,"labelOverlap":false,"tickCount":20}},"color":{"field":"a","type":"nominal","scale":{"domain":["SDAC-CoR","SDAC","CPO","OffTRC"],"range":["#1f77b4","#ff7f0e","#2ca02c","#d62728"]},"legend":null}}},
 {"data":{"values":[{}]},"mark":{"type":"text","align":"right","baseline":"middle","dy":10.5,"fontSize":4.5,"color":"#222"},"encoding":{"x":{"datum":5},"y":{"datum":-4},"text":{"value":"1e6"}}}
]},
{"width":125,"height":82,"title":{"text":"Cost Rate","fontWeight":"normal","fontSize":7.5},"data":{"name":"pgC"},"layer":[
 {"mark":{"type":"area","opacity":0.2,"interpolate":"monotone"},"encoding":{"x":{"field":"x","type":"quantitative","scale":{"domain":[0,5],"nice":false},"axis":{"values":[0,1,2,3,4,5],"format":"d","title":"Steps","labelOverlap":false,"tickCount":20}},"y":{"field":"l","type":"quantitative","scale":{"domain":[0,0.2125],"nice":false,"zero":false},"axis":{"values":[0,0.025,0.05,0.075,0.1,0.125,0.15,0.175,0.2],"format":".3f","title":null,"labelOverlap":false,"tickCount":20}},"y2":{"field":"h"},"color":{"field":"a","type":"nominal","scale":{"domain":["SDAC-CoR","SDAC","CPO","OffTRC"],"range":["#1f77b4","#ff7f0e","#2ca02c","#d62728"]},"legend":{"orient":"top-right","offset":1,"title":null,"symbolType":"stroke","symbolStrokeWidth":1.5,"symbolSize":64,"symbolOpacity":1,"labelFontSize":6,"labelFont":"DejaVu Sans","fillColor":"rgba(255,255,255,0.85)","strokeColor":"#ccc","padding":3,"rowPadding":0.5,"cornerRadius":2,"labelOffset":3}}}},
 {"mark":{"type":"line","strokeWidth":1.1,"interpolate":"monotone"},"encoding":{"x":{"field":"x","type":"quantitative","axis":{"values":[0,1,2,3,4,5],"format":"d","title":"Steps","labelOverlap":false,"tickCount":20}},"y":{"field":"y","type":"quantitative","axis":{"values":[0,0.025,0.05,0.075,0.1,0.125,0.15,0.175,0.2],"format":".3f","title":null,"labelOverlap":false,"tickCount":20}},"color":{"field":"a","type":"nominal","scale":{"domain":["SDAC-CoR","SDAC","CPO","OffTRC"],"range":["#1f77b4","#ff7f0e","#2ca02c","#d62728"]},"legend":{"orient":"top-right","offset":1,"title":null,"symbolType":"stroke","symbolStrokeWidth":1.5,"symbolSize":64,"symbolOpacity":1,"labelFontSize":6,"labelFont":"DejaVu Sans","fillColor":"rgba(255,255,255,0.85)","strokeColor":"#ccc","padding":3,"rowPadding":0.5,"cornerRadius":2,"labelOffset":3}}}},
 {"data":{"values":[{}]},"mark":{"type":"rule","color":"black","strokeDash":[3,2],"strokeWidth":0.9},"encoding":{"y":{"datum":0.025}}},
 {"data":{"values":[{}]},"mark":{"type":"text","align":"right","baseline":"middle","dy":10.5,"fontSize":4.5,"color":"#222"},"encoding":{"x":{"datum":5},"y":{"datum":0},"text":{"value":"1e6"}}}
]},
{"width":125,"height":82,"title":{"text":"Cost Rate","fontWeight":"normal","fontSize":7.5},"data":{"name":"cgC"},"layer":[
 {"mark":{"type":"area","opacity":0.2,"interpolate":"monotone"},"encoding":{"x":{"field":"x","type":"quantitative","scale":{"domain":[0,5],"nice":false},"axis":{"values":[0,1,2,3,4,5],"format":"d","title":"Steps","labelOverlap":false,"tickCount":20}},"y":{"field":"l","type":"quantitative","scale":{"domain":[0,0.15],"nice":false,"zero":false},"axis":{"values":[0,0.02,0.04,0.06,0.08,0.1,0.12,0.14],"format":".2f","title":null,"labelOverlap":false,"tickCount":20}},"y2":{"field":"h"},"color":{"field":"a","type":"nominal","scale":{"domain":["SDAC-CoR","SDAC","CPO","OffTRC"],"range":["#1f77b4","#ff7f0e","#2ca02c","#d62728"]},"legend":null}}},
 {"mark":{"type":"line","strokeWidth":1.1,"interpolate":"monotone"},"encoding":{"x":{"field":"x","type":"quantitative","axis":{"values":[0,1,2,3,4,5],"format":"d","title":"Steps","labelOverlap":false,"tickCount":20}},"y":{"field":"y","type":"quantitative","axis":{"values":[0,0.02,0.04,0.06,0.08,0.1,0.12,0.14],"format":".2f","title":null,"labelOverlap":false,"tickCount":20}},"color":{"field":"a","type":"nominal","scale":{"domain":["SDAC-CoR","SDAC","CPO","OffTRC"],"range":["#1f77b4","#ff7f0e","#2ca02c","#d62728"]},"legend":null}}},
 {"data":{"values":[{}]},"mark":{"type":"rule","color":"black","strokeDash":[3,2],"strokeWidth":0.9},"encoding":{"y":{"datum":0.025}}},
 {"data":{"values":[{}]},"mark":{"type":"text","align":"right","baseline":"middle","dy":10.5,"fontSize":4.5,"color":"#222"},"encoding":{"x":{"datum":5},"y":{"datum":0},"text":{"value":"1e6"}}}
]},
{"width":125,"height":82,"title":{"text":"Cost Rate","fontWeight":"normal","fontSize":7.5},"data":{"name":"pbC"},"layer":[
 {"mark":{"type":"area","opacity":0.2,"interpolate":"monotone"},"encoding":{"x":{"field":"x","type":"quantitative","scale":{"domain":[0,5],"nice":false},"axis":{"values":[0,1,2,3,4,5],"format":"d","title":"Steps","labelOverlap":false,"tickCount":20}},"y":{"field":"l","type":"quantitative","scale":{"domain":[0,0.1225],"nice":false,"zero":false},"axis":{"values":[0,0.02,0.04,0.06,0.08,0.1,0.12],"format":".2f","title":null,"labelOverlap":false,"tickCount":20}},"y2":{"field":"h"},"color":{"field":"a","type":"nominal","scale":{"domain":["SDAC-CoR","SDAC","CPO","OffTRC"],"range":["#1f77b4","#ff7f0e","#2ca02c","#d62728"]},"legend":null}}},
 {"mark":{"type":"line","strokeWidth":1.1,"interpolate":"monotone"},"encoding":{"x":{"field":"x","type":"quantitative","axis":{"values":[0,1,2,3,4,5],"format":"d","title":"Steps","labelOverlap":false,"tickCount":20}},"y":{"field":"y","type":"quantitative","axis":{"values":[0,0.02,0.04,0.06,0.08,0.1,0.12],"format":".2f","title":null,"labelOverlap":false,"tickCount":20}},"color":{"field":"a","type":"nominal","scale":{"domain":["SDAC-CoR","SDAC","CPO","OffTRC"],"range":["#1f77b4","#ff7f0e","#2ca02c","#d62728"]},"legend":null}}},
 {"data":{"values":[{}]},"mark":{"type":"rule","color":"black","strokeDash":[3,2],"strokeWidth":0.9},"encoding":{"y":{"datum":0.02}}},
 {"data":{"values":[{}]},"mark":{"type":"text","align":"right","baseline":"middle","dy":10.5,"fontSize":4.5,"color":"#222"},"encoding":{"x":{"datum":5},"y":{"datum":0},"text":{"value":"1e6"}}}
]},
{"width":125,"height":82,"title":{"text":"Cost Rate","fontWeight":"normal","fontSize":7.5},"data":{"name":"cbC"},"layer":[
 {"mark":{"type":"area","opacity":0.2,"interpolate":"monotone"},"encoding":{"x":{"field":"x","type":"quantitative","scale":{"domain":[0,5],"nice":false},"axis":{"values":[0,1,2,3,4,5],"format":"d","title":"Steps","labelOverlap":false,"tickCount":20}},"y":{"field":"l","type":"quantitative","scale":{"domain":[0,0.147],"nice":false,"zero":false},"axis":{"values":[0,0.02,0.04,0.06,0.08,0.1,0.12,0.14],"format":".2f","title":null,"labelOverlap":false,"tickCount":20}},"y2":{"field":"h"},"color":{"field":"a","type":"nominal","scale":{"domain":["SDAC-CoR","SDAC","CPO","OffTRC"],"range":["#1f77b4","#ff7f0e","#2ca02c","#d62728"]},"legend":null}}},
 {"mark":{"type":"line","strokeWidth":1.1,"interpolate":"monotone"},"encoding":{"x":{"field":"x","type":"quantitative","axis":{"values":[0,1,2,3,4,5],"format":"d","title":"Steps","labelOverlap":false,"tickCount":20}},"y":{"field":"y","type":"quantitative","axis":{"values":[0,0.02,0.04,0.06,0.08,0.1,0.12,0.14],"format":".2f","title":null,"labelOverlap":false,"tickCount":20}},"color":{"field":"a","type":"nominal","scale":{"domain":["SDAC-CoR","SDAC","CPO","OffTRC"],"range":["#1f77b4","#ff7f0e","#2ca02c","#d62728"]},"legend":null}}},
 {"data":{"values":[{}]},"mark":{"type":"rule","color":"black","strokeDash":[3,2],"strokeWidth":0.9},"encoding":{"y":{"datum":0.021}}},
 {"data":{"values":[{}]},"mark":{"type":"text","align":"right","baseline":"middle","dy":10.5,"fontSize":4.5,"color":"#222"},"encoding":{"x":{"datum":5},"y":{"datum":0},"text":{"value":"1e6"}}}
]},
{"width":125,"height":82,"title":{"text":"Total CV","fontWeight":"normal","fontSize":7.5},"data":{"name":"pgV"},"layer":[
 {"mark":{"type":"area","opacity":0.2,"interpolate":"monotone"},"encoding":{"x":{"field":"x","type":"quantitative","scale":{"domain":[0,5],"nice":false},"axis":{"values":[0,1,2,3,4,5],"format":"d","title":"Steps","labelOverlap":false,"tickCount":20}},"y":{"field":"l","type":"quantitative","scale":{"domain":[0,89000],"nice":false,"zero":false},"axis":{"values":[0,10000,20000,30000,40000,50000,60000,70000,80000],"format":"d","title":null,"labelOverlap":false,"tickCount":20}},"y2":{"field":"h"},"color":{"field":"a","type":"nominal","scale":{"domain":["SDAC-CoR","SDAC","CPO","OffTRC"],"range":["#1f77b4","#ff7f0e","#2ca02c","#d62728"]},"legend":null}}},
 {"mark":{"type":"line","strokeWidth":1.1,"interpolate":"monotone"},"encoding":{"x":{"field":"x","type":"quantitative","axis":{"values":[0,1,2,3,4,5],"format":"d","title":"Steps","labelOverlap":false,"tickCount":20}},"y":{"field":"y","type":"quantitative","axis":{"values":[0,10000,20000,30000,40000,50000,60000,70000,80000],"format":"d","title":null,"labelOverlap":false,"tickCount":20}},"color":{"field":"a","type":"nominal","scale":{"domain":["SDAC-CoR","SDAC","CPO","OffTRC"],"range":["#1f77b4","#ff7f0e","#2ca02c","#d62728"]},"legend":null}}},
 {"data":{"values":[{}]},"mark":{"type":"text","align":"right","baseline":"middle","dy":10.5,"fontSize":4.5,"color":"#222"},"encoding":{"x":{"datum":5},"y":{"datum":0},"text":{"value":"1e6"}}}
]},
{"width":125,"height":82,"title":{"text":"Total CV","fontWeight":"normal","fontSize":7.5},"data":{"name":"cgV"},"layer":[
 {"mark":{"type":"area","opacity":0.2,"interpolate":"monotone"},"encoding":{"x":{"field":"x","type":"quantitative","scale":{"domain":[0,5],"nice":false},"axis":{"values":[0,1,2,3,4,5],"format":"d","title":"Steps","labelOverlap":false,"tickCount":20}},"y":{"field":"l","type":"quantitative","scale":{"domain":[0,69500],"nice":false,"zero":false},"axis":{"values":[0,10000,20000,30000,40000,50000,60000],"format":"d","title":null,"labelOverlap":false,"tickCount":20}},"y2":{"field":"h"},"color":{"field":"a","type":"nominal","scale":{"domain":["SDAC-CoR","SDAC","CPO","OffTRC"],"range":["#1f77b4","#ff7f0e","#2ca02c","#d62728"]},"legend":null}}},
 {"mark":{"type":"line","strokeWidth":1.1,"interpolate":"monotone"},"encoding":{"x":{"field":"x","type":"quantitative","axis":{"values":[0,1,2,3,4,5],"format":"d","title":"Steps","labelOverlap":false,"tickCount":20}},"y":{"field":"y","type":"quantitative","axis":{"values":[0,10000,20000,30000,40000,50000,60000],"format":"d","title":null,"labelOverlap":false,"tickCount":20}},"color":{"field":"a","type":"nominal","scale":{"domain":["SDAC-CoR","SDAC","CPO","OffTRC"],"range":["#1f77b4","#ff7f0e","#2ca02c","#d62728"]},"legend":null}}},
 {"data":{"values":[{}]},"mark":{"type":"text","align":"right","baseline":"middle","dy":10.5,"fontSize":4.5,"color":"#222"},"encoding":{"x":{"datum":5},"y":{"datum":0},"text":{"value":"1e6"}}}
]},
{"width":125,"height":82,"title":{"text":"Total CV","fontWeight":"normal","fontSize":7.5},"data":{"name":"pbV"},"layer":[
 {"mark":{"type":"area","opacity":0.2,"interpolate":"monotone"},"encoding":{"x":{"field":"x","type":"quantitative","scale":{"domain":[0,5],"nice":false},"axis":{"values":[0,1,2,3,4,5],"format":"d","title":"Steps","labelOverlap":false,"tickCount":20}},"y":{"field":"l","type":"quantitative","scale":{"domain":[0,167000],"nice":false,"zero":false},"axis":{"values":[0,20000,40000,60000,80000,100000,120000,140000,160000],"format":"d","title":null,"labelOverlap":false,"tickCount":20}},"y2":{"field":"h"},"color":{"field":"a","type":"nominal","scale":{"domain":["SDAC-CoR","SDAC","CPO","OffTRC"],"range":["#1f77b4","#ff7f0e","#2ca02c","#d62728"]},"legend":null}}},
 {"mark":{"type":"line","strokeWidth":1.1,"interpolate":"monotone"},"encoding":{"x":{"field":"x","type":"quantitative","axis":{"values":[0,1,2,3,4,5],"format":"d","title":"Steps","labelOverlap":false,"tickCount":20}},"y":{"field":"y","type":"quantitative","axis":{"values":[0,20000,40000,60000,80000,100000,120000,140000,160000],"format":"d","title":null,"labelOverlap":false,"tickCount":20}},"color":{"field":"a","type":"nominal","scale":{"domain":["SDAC-CoR","SDAC","CPO","OffTRC"],"range":["#1f77b4","#ff7f0e","#2ca02c","#d62728"]},"legend":null}}},
 {"data":{"values":[{}]},"mark":{"type":"text","align":"right","baseline":"middle","dy":10.5,"fontSize":4.5,"color":"#222"},"encoding":{"x":{"datum":5},"y":{"datum":0},"text":{"value":"1e6"}}}
]},
{"width":125,"height":82,"title":{"text":"Total CV","fontWeight":"normal","fontSize":7.5},"data":{"name":"cbV"},"layer":[
 {"mark":{"type":"area","opacity":0.2,"interpolate":"monotone"},"encoding":{"x":{"field":"x","type":"quantitative","scale":{"domain":[0,5],"nice":false},"axis":{"values":[0,1,2,3,4,5],"format":"d","title":"Steps","labelOverlap":false,"tickCount":20}},"y":{"field":"l","type":"quantitative","scale":{"domain":[0,208000],"nice":false,"zero":false},"axis":{"values":[0,25000,50000,75000,100000,125000,150000,175000,200000],"format":"d","title":null,"labelOverlap":false,"tickCount":20}},"y2":{"field":"h"},"color":{"field":"a","type":"nominal","scale":{"domain":["SDAC-CoR","SDAC","CPO","OffTRC"],"range":["#1f77b4","#ff7f0e","#2ca02c","#d62728"]},"legend":null}}},
 {"mark":{"type":"line","strokeWidth":1.1,"interpolate":"monotone"},"encoding":{"x":{"field":"x","type":"quantitative","axis":{"values":[0,1,2,3,4,5],"format":"d","title":"Steps","labelOverlap":false,"tickCount":20}},"y":{"field":"y","type":"quantitative","axis":{"values":[0,25000,50000,75000,100000,125000,150000,175000,200000],"format":"d","title":null,"labelOverlap":false,"tickCount":20}},"color":{"field":"a","type":"nominal","scale":{"domain":["SDAC-CoR","SDAC","CPO","OffTRC"],"range":["#1f77b4","#ff7f0e","#2ca02c","#d62728"]},"legend":null}}},
 {"data":{"values":[{}]},"mark":{"type":"text","align":"right","baseline":"middle","dy":10.5,"fontSize":4.5,"color":"#222"},"encoding":{"x":{"datum":5},"y":{"datum":0},"text":{"value":"1e6"}}}
]}
]
}
